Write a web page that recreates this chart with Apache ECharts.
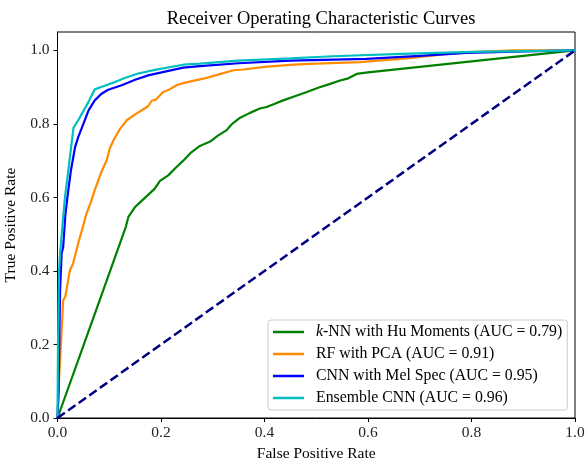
<!DOCTYPE html>
<html>
<head>
<meta charset="utf-8">
<script src="https://cdn.jsdelivr.net/npm/echarts@6/dist/echarts.min.js"></script>
<style>
html,body{margin:0;padding:0;background:#fff;}
#chart{width:587px;height:458px;}
</style>
</head>
<body>
<div id="chart"></div>
<script>
const knnName = 'k-NN with Hu Moments (AUC = 0.79)';
const rfName = 'RF with PCA (AUC = 0.91)';
const cnnName = 'CNN with Mel Spec (AUC = 0.95)';
const ensName = 'Ensemble CNN (AUC = 0.96)';

const knnFpr = [0, 0.0885, 0.132, 0.137, 0.150, 0.162, 0.172, 0.188, 0.198, 0.214, 0.228, 0.243, 0.258, 0.275, 0.295, 0.310, 0.327, 0.334, 0.340, 0.353, 0.372, 0.391, 0.404, 0.420, 0.436, 0.460, 0.482, 0.505, 0.527, 0.546, 0.562, 0.578, 0.60, 1.0];
const knnTpr = [0, 0.348, 0.52, 0.547, 0.574, 0.590, 0.603, 0.624, 0.645, 0.660, 0.680, 0.700, 0.722, 0.740, 0.752, 0.768, 0.783, 0.795, 0.803, 0.817, 0.830, 0.842, 0.846, 0.855, 0.864, 0.876, 0.887, 0.899, 0.909, 0.918, 0.924, 0.936, 0.940, 1.0];

const rfFpr = [0, 0.002, 0.005, 0.011, 0.015, 0.024, 0.030, 0.040, 0.048, 0.056, 0.064, 0.072, 0.085, 0.095, 0.101, 0.108, 0.120, 0.134, 0.150, 0.166, 0.175, 0.182, 0.190, 0.204, 0.214, 0.230, 0.243, 0.262, 0.282, 0.300, 0.340, 0.359, 0.400, 0.456, 0.500, 0.585, 0.620, 0.675, 0.750, 0.800, 0.880, 1.0];
const rfTpr = [0, 0.08, 0.158, 0.32, 0.33, 0.402, 0.42, 0.475, 0.515, 0.556, 0.585, 0.620, 0.670, 0.701, 0.733, 0.755, 0.785, 0.810, 0.826, 0.840, 0.848, 0.863, 0.866, 0.887, 0.892, 0.905, 0.911, 0.917, 0.923, 0.930, 0.946, 0.948, 0.955, 0.961, 0.964, 0.968, 0.972, 0.978, 0.990, 0.995, 1.0, 1.0];

const cnnFpr = [0, 0.002, 0.005, 0.008, 0.011, 0.015, 0.020, 0.026, 0.034, 0.040, 0.050, 0.060, 0.072, 0.085, 0.098, 0.124, 0.150, 0.175, 0.210, 0.243, 0.275, 0.350, 0.450, 0.597, 0.700, 0.790, 0.900, 1.0];
const cnnTpr = [0, 0.07, 0.348, 0.448, 0.465, 0.55, 0.61, 0.674, 0.737, 0.764, 0.800, 0.837, 0.864, 0.882, 0.893, 0.905, 0.920, 0.932, 0.943, 0.953, 0.957, 0.965, 0.972, 0.977, 0.985, 0.993, 0.997, 1.0];

const ensFpr = [0, 0.001, 0.003, 0.005, 0.010, 0.0145, 0.021, 0.024, 0.031, 0.040, 0.060, 0.072, 0.090, 0.111, 0.130, 0.156, 0.188, 0.243, 0.275, 0.350, 0.450, 0.532, 0.650, 0.800, 0.900, 1.0];
const ensTpr = [0, 0.20, 0.40, 0.447, 0.53, 0.601, 0.674, 0.710, 0.790, 0.810, 0.860, 0.894, 0.903, 0.914, 0.925, 0.937, 0.947, 0.961, 0.964, 0.972, 0.978, 0.984, 0.990, 0.996, 0.998, 1.0];

const chanceFpr = [0, 1];
const chanceTpr = [0, 1];

const xTicks = [0, 0.2, 0.4, 0.6, 0.8, 1.0];
const yTicks = [0, 0.2, 0.4, 0.6, 0.8, 1.0];

function pairs(xs, ys) { return xs.map((x, i) => [x, ys[i]]); }

const FONT = 'Liberation Serif';
const chart = echarts.init(document.getElementById('chart'), null, {renderer: 'canvas'});

function lineSeries(name, xs, ys, color, width, dashed) {
  return {
    name: name, type: 'line', data: pairs(xs, ys), showSymbol: false, symbol: 'none',
    smooth: false, animation: false,
    lineStyle: {color: color, width: width, type: dashed ? [9, 4] : 'solid', cap: 'butt'},
    itemStyle: {color: color}
  };
}

const option = {
  animation: false,
  backgroundColor: '#fff',
  title: {
    text: 'Receiver Operating Characteristic Curves',
    left: 316, top: 5, textAlign: 'center',
    textStyle: {fontFamily: FONT, fontSize: 18.5, fontWeight: 'normal', color: '#000'}
  },
  grid: {left: 57.5, right: 12, top: 32, bottom: 40, show: true, borderColor: '#000', borderWidth: 1,
    backgroundColor: 'transparent', containLabel: false, outerBoundsMode: 'none'},
  xAxis: {
    type: 'value', min: 0, max: 1, interval: 0.2,
    name: 'False Positive Rate', nameLocation: 'middle', nameGap: 26,
    nameTextStyle: {fontFamily: FONT, fontSize: 15.5, color: '#000'},
    axisLine: {show: true, lineStyle: {color: '#000', width: 1}},
    axisTick: {show: true, length: 4, lineStyle: {color: '#000'}},
    axisLabel: {fontFamily: FONT, fontSize: 15.5, color: '#222', margin: 7,
      formatter: v => xTicks.some(t => Math.abs(t - v) < 1e-9) ? v.toFixed(1) : ''},
    splitLine: {show: false}
  },
  yAxis: {
    type: 'value', min: 0, max: 1.05, interval: 0.2,
    name: 'True Positive Rate', nameLocation: 'middle', nameGap: 33, nameRotate: 90,
    nameTextStyle: {fontFamily: FONT, fontSize: 15.5, color: '#000'},
    axisLine: {show: true, lineStyle: {color: '#000', width: 1}},
    axisTick: {show: true, length: 4, lineStyle: {color: '#000'}},
    axisLabel: {fontFamily: FONT, fontSize: 15.5, color: '#222', margin: 8, showMaxLabel: false,
      formatter: v => yTicks.some(t => Math.abs(t - v) < 1e-9) ? v.toFixed(1) : ''},
    splitLine: {show: false}
  },
  legend: {
    data: [knnName, rfName, cnnName, ensName],
    orient: 'vertical', left: 268, top: 320,
    icon: 'rect', itemWidth: 31, itemHeight: 2.5, itemGap: 6,
    padding: [4, 5, 4, 5],
    backgroundColor: 'rgba(255,255,255,0.8)', borderColor: '#ccc', borderWidth: 1, borderRadius: 3,
    textStyle: {fontFamily: FONT, fontSize: 15.8, color: '#000', lineHeight: 16, padding: [0, 0, 0, 7],
      rich: {i: {fontStyle: 'italic', fontFamily: FONT, fontSize: 15.8, color: '#000'}}},
    formatter: function (name) {
      if (name.indexOf('k-') === 0) return '{i|k}' + name.slice(1);
      return name;
    }
  },
  series: [
    lineSeries(knnName, knnFpr, knnTpr, '#008000', 2.2, false),
    lineSeries(rfName, rfFpr, rfTpr, '#ff8c00', 2.2, false),
    lineSeries(cnnName, cnnFpr, cnnTpr, '#0000ff', 2.2, false),
    lineSeries(ensName, ensFpr, ensTpr, '#00bfbf', 2.2, false),
    lineSeries('Chance', chanceFpr, chanceTpr, '#000080', 2.5, true)
  ]
};
chart.setOption(option);
</script>
</body>
</html>
